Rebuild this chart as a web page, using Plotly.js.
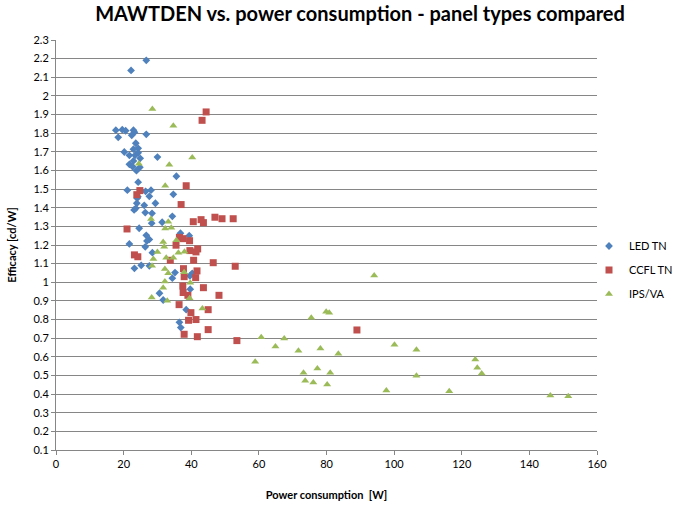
<!DOCTYPE html>
<html><head><meta charset="utf-8">
<script src="https://cdn.plot.ly/plotly-3.0.1.min.js"></script>
<style>html,body{margin:0;padding:0;background:#fff;overflow:hidden}#wrap{width:673px;height:510px;overflow:hidden}#chart{width:700px;height:510px}</style>
</head><body><div id="wrap"><div id="chart"></div></div>
<script>
const ledX = [26.7,22.2,17.7,19.6,20.6,22.9,23.2,22.4,18.4,26.7,23.6,22.9,24.3,20.2,21.7,23.4,24.3,24.9,30.0,21.7,22.9,22.7,24.8,23.8,35.6,24.3,21.1,24.2,26.5,28.1,27.6,34.7,24.0,23.9,26.1,29.4,23.1,23.6,26.4,28.4,34.4,28.3,31.4,24.6,26.7,27.6,26.9,21.7,36.8,39.4,26.4,28.5,23.2,25.2,27.6,35.2,40.3,39.6,34.4,39.7,30.6,31.7,38.5,36.5,36.9];
const ledY = [2.191,2.137,1.816,1.819,1.813,1.816,1.805,1.789,1.778,1.794,1.746,1.714,1.719,1.699,1.681,1.681,1.695,1.665,1.672,1.633,1.651,1.620,1.617,1.599,1.569,1.537,1.494,1.459,1.488,1.494,1.461,1.472,1.451,1.424,1.413,1.424,1.388,1.397,1.374,1.370,1.354,1.317,1.322,1.290,1.252,1.230,1.222,1.206,1.263,1.250,1.190,1.159,1.075,1.091,1.088,1.052,1.048,1.034,1.022,0.963,0.941,0.905,0.853,0.785,0.757];
const ccflX = [44.4,43.2,38.5,24.8,23.9,37.0,40.6,42.9,43.6,47.0,49.1,52.4,21.0,36.5,37.6,39.5,35.5,41.9,39.6,41.4,23.2,24.2,33.8,40.7,46.5,53.0,37.7,41.7,37.9,41.3,37.5,43.6,37.6,39.0,48.2,36.4,39.9,45.0,39.2,41.4,45.0,37.9,41.8,53.5,89.0];
const ccflY = [1.914,1.869,1.518,1.492,1.470,1.417,1.325,1.336,1.320,1.349,1.341,1.341,1.286,1.241,1.234,1.223,1.199,1.179,1.170,1.163,1.147,1.137,1.118,1.118,1.105,1.086,1.073,1.061,1.030,1.025,0.980,0.971,0.945,0.930,0.930,0.880,0.837,0.853,0.796,0.800,0.746,0.721,0.708,0.687,0.744];
const ipsX = [28.5,34.7,40.3,24.5,33.5,32.3,33.2,32.3,34.1,28.1,31.7,32.0,35.6,30.0,36.2,38.0,32.6,34.7,28.8,28.4,32.2,33.2,37.9,32.2,39.7,31.7,28.3,32.9,39.5,43.3,60.7,67.5,64.9,71.7,78.2,83.5,58.9,73.2,77.3,81.1,73.7,76.1,80.2,75.5,79.9,80.8,94.1,100.1,106.6,124.0,124.6,125.9,106.6,97.7,116.3,146.2,151.5];
const ipsY = [1.930,1.840,1.669,1.636,1.631,1.518,1.325,1.288,1.293,1.340,1.216,1.191,1.225,1.163,1.159,1.164,1.132,1.132,1.125,1.088,1.071,1.048,1.054,1.004,0.998,0.971,0.918,0.901,0.914,0.859,0.705,0.698,0.655,0.633,0.644,0.617,0.574,0.515,0.537,0.515,0.472,0.462,0.451,0.810,0.842,0.837,1.036,0.665,0.638,0.585,0.542,0.510,0.499,0.419,0.415,0.392,0.389];
const seriesNames = ["LED TN","CCFL TN","IPS/VA"];

const FONT = "Lato, 'Open Sans', sans-serif";
const W = 700;
const traces = [
  {x: ledX, y: ledY, name: seriesNames[0], mode: "markers", type: "scatter", legendgroup: "a",
   marker: {symbol: "diamond", size: 6, color: "#4F81BD"}},
  {x: ccflX, y: ccflY, name: seriesNames[1], mode: "markers", type: "scatter", legendgroup: "b",
   marker: {symbol: "square", size: 7, color: "#C0504D"}},
  {x: ipsX, y: ipsY, name: seriesNames[2], mode: "markers", type: "scatter", legendgroup: "c",
   marker: {symbol: "triangle-up", size: 7, color: "#9BBB59"}}
];
const layout = {
  width: W, height: 510,
  margin: {l: 56, r: W - 597, t: 40, b: 60},
  paper_bgcolor: "#fff", plot_bgcolor: "#fff",
  font: {family: FONT, size: 11, color: "#000"},
  title: {text: "<b>MAWTDEN vs. power consumption - panel types compared</b>", xref: "container", x: 360/W, xanchor: "center", y: 0.972, yanchor: "middle",
          font: {family: FONT, size: 20, color: "#000"}},
  showlegend: true,
  legend: {x: (589 - 56) / 541, xanchor: "left", y: (450 - 270) / 410, yanchor: "middle",
           font: {family: FONT, size: 11}, itemwidth: 30,
           traceorder: "grouped", tracegroupgap: 5, bgcolor: "rgba(0,0,0,0)"},
  xaxis: {range: [0, 160], dtick: 20, tick0: 0, showgrid: false, zeroline: false,
          showline: true, linecolor: "#868686", linewidth: 1, ticks: "outside", ticklen: 4, tickcolor: "#868686",
          title: {text: "<b>Power consumption  [W]</b>", font: {family: FONT, size: 11}, standoff: 22},
          automargin: false, fixedrange: true},
  yaxis: {range: [0.1, 2.3], dtick: 0.1, tick0: 0.1, showgrid: true, gridcolor: "#868686", gridwidth: 1, zeroline: false,
          showline: true, linecolor: "#868686", linewidth: 1, ticks: "outside", ticklen: 4, tickcolor: "#868686",
          title: {text: "<b>Efficacy [cd/W]</b>", font: {family: FONT, size: 11}, standoff: 14},
          automargin: false, fixedrange: true}
};
Plotly.newPlot("chart", traces, layout, {displayModeBar: false, staticPlot: true});
</script></body></html>
